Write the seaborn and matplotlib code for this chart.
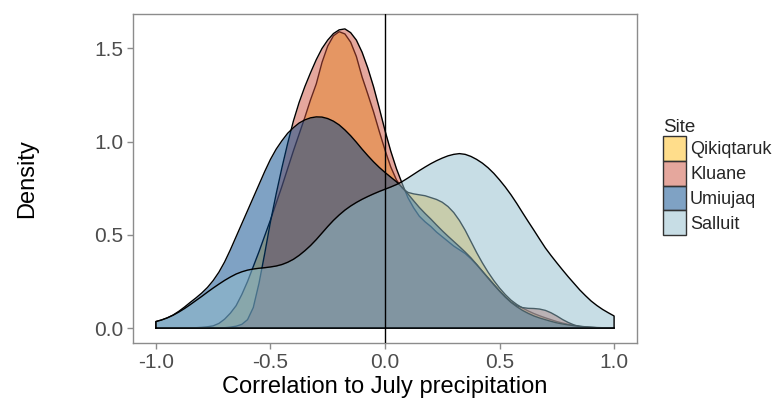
import matplotlib
matplotlib.use("Agg")
import matplotlib.pyplot as plt
from matplotlib.colors import to_rgba
from matplotlib.patches import Patch
import pandas as pd
import seaborn as sns

# ------------------------------------------------------------
# Data (density estimates per site)
# ------------------------------------------------------------
r = [-1.000, -0.975, -0.950, -0.925, -0.900, -0.875, -0.850, -0.825, -0.800, -0.775,
     -0.750, -0.725, -0.700, -0.675, -0.650, -0.625, -0.600, -0.575, -0.550, -0.525,
     -0.500, -0.475, -0.450, -0.425, -0.400, -0.375, -0.350, -0.325, -0.300, -0.275,
     -0.250, -0.225, -0.200, -0.175, -0.150, -0.125, -0.100, -0.075, -0.050, -0.025,
     0.000, 0.025, 0.050, 0.075, 0.100, 0.125, 0.150, 0.175, 0.200, 0.225,
     0.250, 0.275, 0.300, 0.325, 0.350, 0.375, 0.400, 0.425, 0.450, 0.475,
     0.500, 0.525, 0.550, 0.575, 0.600, 0.625, 0.650, 0.675, 0.700, 0.725,
     0.750, 0.775, 0.800, 0.825, 0.850, 0.875, 0.900, 0.925, 0.950, 0.975, 1.000]

qikiqtaruk = [0.000, 0.000, 0.000, 0.000, 0.000, 0.001, 0.001, 0.002, 0.004, 0.007,
              0.012, 0.025, 0.048, 0.080, 0.120, 0.180, 0.250, 0.330, 0.410, 0.495,
              0.580, 0.670, 0.760, 0.855, 0.950, 1.040, 1.130, 1.225, 1.310, 1.425,
              1.513, 1.568, 1.590, 1.578, 1.534, 1.457, 1.347, 1.255, 1.160, 1.055,
              0.955, 0.865, 0.795, 0.750, 0.728, 0.720, 0.715, 0.710, 0.700, 0.690,
              0.675, 0.652, 0.620, 0.577, 0.525, 0.465, 0.405, 0.350, 0.300, 0.255,
              0.215, 0.180, 0.150, 0.127, 0.108, 0.092, 0.078, 0.066, 0.055, 0.045,
              0.035, 0.027, 0.020, 0.014, 0.009, 0.006, 0.004, 0.002, 0.001, 0.000, 0.000]

kluane = [0.000, 0.000, 0.000, 0.000, 0.000, 0.000, 0.000, 0.000, 0.000, 0.000,
          0.000, 0.000, 0.002, 0.005, 0.010, 0.020, 0.045, 0.110, 0.240, 0.400,
          0.570, 0.720, 0.860, 0.990, 1.110, 1.210, 1.295, 1.370, 1.440, 1.500,
          1.545, 1.580, 1.600, 1.605, 1.585, 1.545, 1.480, 1.395, 1.295, 1.180,
          1.060, 0.950, 0.855, 0.775, 0.700, 0.645, 0.600, 0.570, 0.545, 0.515,
          0.490, 0.465, 0.440, 0.420, 0.400, 0.372, 0.340, 0.305, 0.270, 0.235,
          0.200, 0.168, 0.140, 0.120, 0.110, 0.106, 0.105, 0.102, 0.095, 0.082,
          0.065, 0.046, 0.030, 0.017, 0.008, 0.004, 0.002, 0.001, 0.000, 0.000, 0.000]

umiujaq = [0.035, 0.043, 0.055, 0.070, 0.090, 0.113, 0.138, 0.162, 0.188, 0.218,
           0.255, 0.300, 0.355, 0.420, 0.490, 0.560, 0.630, 0.700, 0.770, 0.840,
           0.905, 0.960, 1.005, 1.045, 1.075, 1.100, 1.117, 1.128, 1.133, 1.132,
           1.124, 1.110, 1.090, 1.063, 1.032, 0.997, 0.960, 0.925, 0.892, 0.862,
           0.835, 0.810, 0.785, 0.755, 0.720, 0.683, 0.647, 0.615, 0.585, 0.553,
           0.522, 0.493, 0.465, 0.437, 0.408, 0.377, 0.342, 0.305, 0.268, 0.232,
           0.198, 0.166, 0.138, 0.115, 0.095, 0.079, 0.065, 0.054, 0.045, 0.036,
           0.028, 0.022, 0.017, 0.013, 0.010, 0.007, 0.005, 0.003, 0.002, 0.001, 0.001]

salluit = [0.035, 0.044, 0.055, 0.069, 0.086, 0.105, 0.126, 0.148, 0.170, 0.193,
           0.215, 0.236, 0.256, 0.274, 0.290, 0.302, 0.311, 0.317, 0.321, 0.324,
           0.328, 0.333, 0.341, 0.353, 0.369, 0.390, 0.415, 0.443, 0.475, 0.510,
           0.545, 0.578, 0.607, 0.633, 0.655, 0.674, 0.691, 0.706, 0.720, 0.733,
           0.745, 0.757, 0.770, 0.786, 0.805, 0.825, 0.845, 0.864, 0.882, 0.898,
           0.912, 0.924, 0.932, 0.936, 0.932, 0.921, 0.905, 0.885, 0.860, 0.830,
           0.795, 0.757, 0.715, 0.669, 0.620, 0.572, 0.525, 0.477, 0.430, 0.389,
           0.350, 0.312, 0.275, 0.240, 0.205, 0.174, 0.145, 0.121, 0.100, 0.082, 0.065]

sites = ["Qikiqtaruk", "Kluane", "Umiujaq", "Salluit"]
colours = ["#FFBD19", "#CD503C", "#00468A", "#91BDCD"]

df = pd.concat([pd.DataFrame({"r": r, "density": d, "site": s})
                for s, d in zip(sites, [qikiqtaruk, kluane, umiujaq, salluit])])

# ------------------------------------------------------------
# Style
# ------------------------------------------------------------
sns.set_theme(style="white")
plt.rcParams["font.family"] = ["Liberation Sans", "DejaVu Sans"]
plt.rcParams["axes.unicode_minus"] = False

fig = plt.figure(figsize=(7.76, 3.99), dpi=100)
ax = fig.add_axes([133 / 776, 1 - 343 / 399, 504 / 776, 329 / 399])

# each site: fill then outline, in order, so later fills cover earlier lines
for i, (site, col) in enumerate(zip(sites, colours)):
    sub = df[df["site"] == site]
    ax.fill_between(sub["r"], sub["density"], 0, facecolor=to_rgba(col, 0.5),
                    linewidth=0, zorder=2 + 2 * i)
    xs = [sub["r"].iloc[0]] + list(sub["r"]) + [sub["r"].iloc[-1], sub["r"].iloc[0]]
    ys = [0] + list(sub["density"]) + [0, 0]
    sns.lineplot(x=xs, y=ys, sort=False, estimator=None, color="black",
                 linewidth=1.0, ax=ax, zorder=3 + 2 * i)

ax.axvline(0, color="black", linewidth=1.0, zorder=20)

ax.set_xlim(-1.1, 1.1)
ax.set_ylim(-0.08, 1.685)
ax.set_xticks([-1, -0.5, 0, 0.5, 1])
ax.set_xticklabels(["-1.0", "-0.5", "0.0", "0.5", "1.0"])
ax.set_yticks([0, 0.5, 1, 1.5])
ax.set_yticklabels(["0.0", "0.5", "1.0", "1.5"])
ax.tick_params(axis="both", which="major", direction="out", length=4, width=1,
               color="#8C8C8C", labelcolor="#4D4D4D", labelsize=15, pad=3,
               bottom=True, left=True)
for sp in ax.spines.values():
    sp.set_color("#8C8C8C")
    sp.set_linewidth(1.0)

ax.set_xlabel("Correlation to July precipitation", fontsize=17, color="black", labelpad=3)
ax.set_ylabel("Density", fontsize=17, color="black", labelpad=40)

handles = [Patch(facecolor=to_rgba(c, 0.5), edgecolor="#333333", linewidth=1.0)
           for c in colours]
fig.legend(handles, sites, title="Site", loc="center left",
           bbox_to_anchor=(663 / 776, 1 - 177 / 399), frameon=False,
           fontsize=13, title_fontsize=13.5, handlelength=1.3, handleheight=1.75,
           labelspacing=0.0, handletextpad=0.2, borderpad=0, borderaxespad=0,
           alignment="left")

fig.savefig("out.png", dpi=100)
